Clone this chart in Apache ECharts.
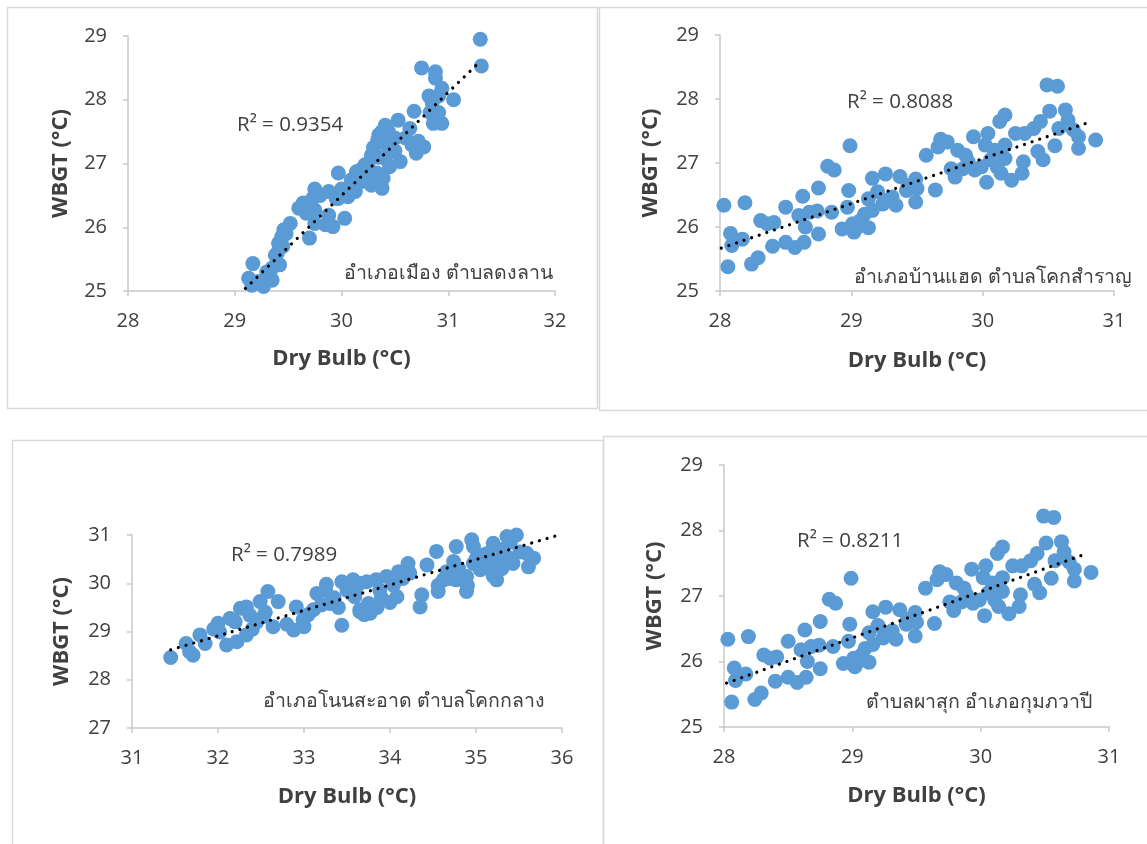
<!DOCTYPE html>
<html>
<head>
<meta charset="utf-8">
<script src="https://cdn.jsdelivr.net/npm/echarts@6/dist/echarts.min.js"></script>
<style>
html,body{margin:0;padding:0;background:#fff;}
#chart{width:1147px;height:844px;}
</style>
</head>
<body>
<div id="chart"></div>
<script>
// ---------- DATA ----------
// Panel 1: อำเภอเมือง ตำบลดงลาน
const p1Dry = [31.30,31.31,30.75,30.88,30.88,30.94,30.82,30.91,31.05,30.68,30.83,30.91,30.86,30.94,30.53,30.41,30.38,30.44,30.64,30.50,30.34,30.66,30.77,30.70,30.47,30.28,30.41,30.55,30.22,30.14,29.97,30.33,30.09,30.20,30.39,30.28,30.38,30.13,29.75,29.88,29.97,30.06,29.73,29.64,29.67,29.75,29.88,30.03,29.85,29.92,29.70,29.75,29.52,29.46,29.44,29.41,29.38,29.42,29.35,29.17,29.13,29.22,29.35,29.27,29.16,30.30,30.35,30.25,30.42,30.18,30.45,30.32,30.10,29.80,30.00,29.48,29.40,30.60,30.85,30.35,30.25,30.15,30.05,29.95,29.60,29.45,29.30,30.50,30.72];
const p1Wbgt = [28.95,28.53,28.50,28.44,28.34,28.18,28.06,28.06,28.00,27.82,27.80,27.80,27.63,27.63,27.68,27.60,27.50,27.50,27.55,27.40,27.37,27.29,27.26,27.16,27.19,27.13,27.08,27.03,26.98,26.87,26.85,26.85,26.74,26.72,26.77,26.66,26.61,26.56,26.60,26.56,26.45,26.48,26.45,26.38,26.22,26.27,26.19,26.14,26.04,26.01,25.83,26.06,26.06,25.96,25.85,25.75,25.56,25.41,25.36,25.43,25.20,25.15,25.17,25.07,25.09,27.25,27.10,27.00,27.30,26.90,26.95,26.70,26.65,26.50,26.60,25.90,25.60,27.40,27.95,27.45,26.85,26.75,26.55,26.45,26.30,25.70,25.30,27.20,27.35];
const p1Trend = [[29.10,25.04],[31.28,28.57]];
const p1R2 = 'R² = 0.9354';
const p1Label = 'อำเภอเมือง ตำบลดงลาน';

// Panel 2: อำเภอบ้านแฮด ตำบลโคกสำราญ
const p2Dry = [28.03,28.06,28.08,28.09,28.17,28.19,28.24,28.29,28.31,28.36,28.41,28.40,28.50,28.50,28.57,28.60,28.64,28.63,28.65,28.68,28.75,28.75,28.74,28.82,28.87,28.85,28.99,28.98,28.93,28.97,29.01,29.02,29.07,29.13,29.13,29.16,29.16,29.26,29.24,29.31,29.34,29.37,29.42,29.49,29.49,29.43,29.50,29.57,29.64,29.66,29.68,29.73,29.81,29.87,29.89,29.85,29.76,29.79,29.94,29.99,29.93,30.04,30.02,30.09,30.17,30.06,30.11,30.17,30.14,30.22,30.30,30.31,30.03,30.13,30.17,30.25,30.32,30.42,30.46,30.39,30.44,30.49,30.57,30.51,30.63,30.58,30.65,30.69,30.55,30.73,30.73,30.86,29.20,29.28,29.10,29.05];
const p2Wbgt = [26.34,25.38,25.90,25.71,25.81,26.38,25.42,25.52,26.10,26.05,26.07,25.70,26.31,25.76,25.68,26.18,25.76,26.48,26.00,26.23,25.89,26.61,26.25,26.95,26.89,26.23,27.27,26.57,25.97,26.31,26.05,25.92,26.10,25.99,26.44,26.76,26.26,26.83,26.36,26.47,26.34,26.79,26.57,26.75,26.39,26.65,26.60,27.12,26.58,27.25,27.37,27.33,27.20,27.12,27.02,26.91,26.91,26.78,26.89,26.94,27.41,27.46,27.28,27.20,27.28,27.05,26.94,27.07,26.84,26.73,26.84,27.02,26.70,27.65,27.75,27.46,27.46,27.18,27.05,27.54,27.65,28.22,28.20,27.81,27.83,27.54,27.67,27.52,27.27,27.23,27.41,27.36,26.55,26.42,26.20,26.00];
const p2Trend = [[28.01,25.67],[30.83,27.65]];
const p2R2 = 'R² = 0.8088';
const p2Label = 'อำเภอบ้านแฮด ตำบลโคกสำราญ';

// Panel 3: อำเภอโนนสะอาด ตำบลโคกกลาง
const p3Dry = [31.45,31.63,31.67,31.71,31.79,31.85,32.00,32.02,32.10,32.14,32.22,32.26,32.33,32.37,32.33,32.49,32.53,32.58,32.70,32.64,32.91,32.88,32.99,33.11,33.15,33.26,33.30,33.44,33.44,33.57,33.59,33.65,33.65,33.73,33.84,33.96,34.10,34.21,34.43,34.54,34.77,34.95,34.97,35.24,35.47,35.20,35.36,35.14,35.28,35.43,35.59,35.67,35.61,35.24,35.05,34.89,34.77,34.89,34.66,34.56,34.56,34.37,34.35,34.08,33.88,33.75,33.77,33.65,34.74,34.97,35.12,35.36,35.51,34.23,34.62,34.04,35.09,32.45,32.55,32.40,33.05,33.20,33.35,33.50,33.40,33.00,32.80,34.80,35.00,35.15,35.30,35.40,35.20,35.30,34.90,34.70,33.90,34.00,33.85,33.60,34.15,32.20,31.95,33.25,33.70];
const p3Wbgt = [28.46,28.75,28.58,28.51,28.93,28.75,29.17,28.99,28.72,29.27,28.79,29.48,29.51,29.34,28.93,29.62,29.31,29.83,29.62,29.10,29.51,29.03,29.24,29.45,29.79,29.98,29.58,29.13,30.03,30.07,29.72,29.45,30.00,30.03,30.07,30.14,30.24,30.41,30.38,30.66,30.76,30.90,30.76,31.03,31.00,30.83,30.97,30.62,30.48,30.41,30.62,30.52,30.34,30.07,30.28,30.14,30.07,29.83,30.24,29.96,29.83,29.76,29.51,29.72,29.86,29.58,29.38,29.41,30.45,30.41,30.45,30.55,30.65,30.21,30.07,29.96,30.59,29.20,29.40,29.05,29.35,29.55,29.70,29.85,29.50,29.10,29.15,30.30,30.50,30.30,30.70,30.85,30.15,30.30,29.95,30.10,29.70,29.60,29.50,29.90,30.10,29.20,29.05,29.85,29.35];
const p3Trend = [[31.45,28.62],[36.0,31.02]];
const p3R2 = 'R² = 0.7989';
const p3Label = 'อำเภอโนนสะอาด ตำบลโคกกลาง';

// Panel 4: ตำบลผาสุก อำเภอกุมภวาปี (points read as identical to panel 2)
const p4Dry = p2Dry.slice();
const p4Wbgt = p2Wbgt.slice();
const p4Trend = [[28.02,25.67],[30.83,27.65]];
const p4R2 = 'R² = 0.8211';
const p4Label = 'ตำบลผาสุก อำเภอกุมภวาปี';

const xTitle = 'Dry Bulb (°C)';
const yTitle = 'WBGT (°C)';

// ---------- STYLE / LAYOUT ----------
const BLUE = '#5B9BD5';
const TXT = '#404040';
const AX = '#c9c9c9';
const FONT = '"Open Sans", "Noto Sans", sans-serif';

const panels = [
  {dry:p1Dry, wbgt:p1Wbgt, trend:p1Trend, r2:p1R2, label:p1Label,
   grid:{left:128, top:36, width:427, height:255}, x:[28,32], y:[25,29], yGap:56, xGap:57,
   r2Pos:[237,125], labPos:[553,273]},
  {dry:p2Dry, wbgt:p2Wbgt, trend:p2Trend, r2:p2R2, label:p2Label,
   grid:{left:720, top:35, width:394, height:256}, x:[28,31], y:[25,29], yGap:58, xGap:59,
   r2Pos:[847,102], labPos:[1132,277]},
  {dry:p3Dry, wbgt:p3Wbgt, trend:p3Trend, r2:p3R2, label:p3Label,
   grid:{left:132, top:535, width:430, height:193}, x:[31,36], y:[27,31], yGap:59, xGap:58,
   r2Pos:[231,555], labPos:[545,701]},
  {dry:p4Dry, wbgt:p4Wbgt, trend:p4Trend, r2:p4R2, label:p4Label,
   grid:{left:724, top:465, width:385, height:262}, x:[28,31], y:[25,29], yGap:58, xGap:58,
   r2Pos:[797,541], labPos:[1092,702]}
];

const grids = [], xAxes = [], yAxes = [], series = [], graphics = [];

// panel frames
[[7,7,590,401],[599,7,560,403],[12,440,591,420],[603,436,560,420]].forEach(r=>{
  graphics.push({type:'rect', shape:{x:r[0]+0.5,y:r[1]+0.5,width:r[2],height:r[3]},
    style:{fill:'none', stroke:'#d9d9d9', lineWidth:1.5}, silent:true});
});

panels.forEach((p,i)=>{
  grids.push(Object.assign({containLabel:false}, p.grid));
  const axisCommon = {
    axisLine:{show:true, onZero:false, lineStyle:{color:AX, width:1.5}},
    axisTick:{show:true, length:5, lineStyle:{color:AX, width:1.5}},
    splitLine:{show:false},
    axisLabel:{color:TXT, fontSize:20, fontFamily:FONT, margin:20},
    nameLocation:'middle',
    nameTextStyle:{color:TXT, fontSize:22, fontWeight:'bold', fontFamily:FONT}
  };
  xAxes.push(Object.assign({}, axisCommon, {
    type:'value', gridIndex:i, min:p.x[0], max:p.x[1], interval:1,
    name:xTitle, nameGap:p.xGap
  }));
  yAxes.push(Object.assign({}, axisCommon, {
    type:'value', gridIndex:i, min:p.y[0], max:p.y[1], interval:1,
    name:yTitle, nameGap:p.yGap,
    axisLabel:Object.assign({}, axisCommon.axisLabel, {margin:21})
  }));
  series.push({
    type:'scatter', xAxisIndex:i, yAxisIndex:i,
    data:p.dry.map((d,k)=>[d,p.wbgt[k]]),
    symbolSize:15, itemStyle:{color:BLUE, opacity:1}, z:2, silent:true
  });
  series.push({
    type:'line', xAxisIndex:i, yAxisIndex:i, data:p.trend,
    symbol:'none', z:5, silent:true,
    lineStyle:{color:'#000', width:3.2, type:[0.01,8], cap:'round'}
  });
  graphics.push({type:'text', x:p.r2Pos[0], y:p.r2Pos[1], silent:true,
    style:{text:p.r2, fill:TXT, font:'20.5px '+FONT, align:'left', verticalAlign:'middle'}});
  graphics.push({type:'text', x:p.labPos[0], y:p.labPos[1], silent:true,
    style:{text:p.label, fill:TXT, font:'19.5px '+FONT, align:'right', verticalAlign:'middle'}});
});

const chart = echarts.init(document.getElementById('chart'), null, {renderer:'canvas'});
chart.setOption({
  animation:false,
  backgroundColor:'#fff',
  grid:grids, xAxis:xAxes, yAxis:yAxes, series:series, graphic:graphics
});
</script>
</body>
</html>
